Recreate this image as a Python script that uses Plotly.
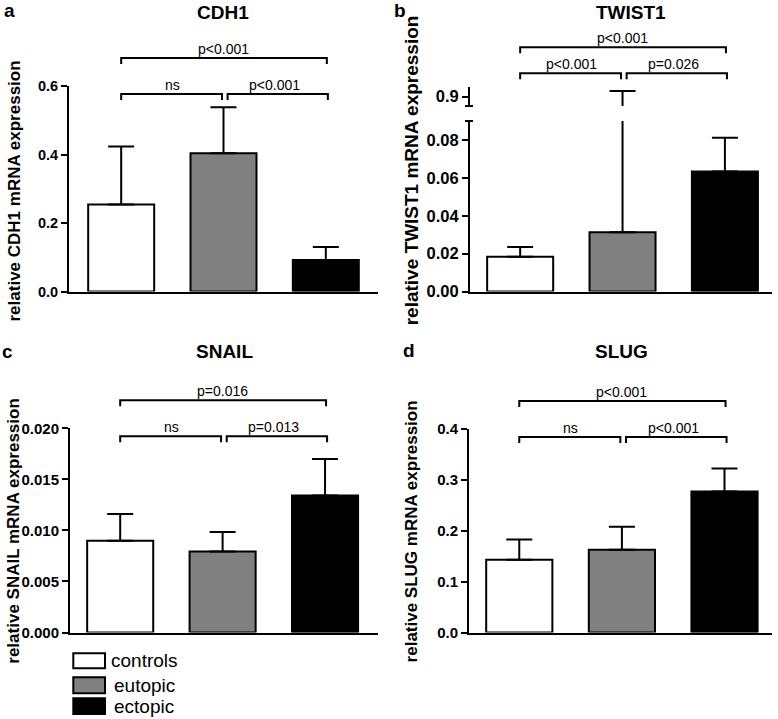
import plotly.graph_objects as go

W, H = 778, 719
FONT = "Liberation Sans"

# ---------------- data ----------------
categories = ["controls", "eutopic", "ectopic"]
bar_colors = ["#ffffff", "#808080", "#000000"]

cdh1_mean = [0.254, 0.404, 0.092]
cdh1_err = [0.169, 0.134, 0.038]
cdh1_ticks = [0.0, 0.2, 0.4, 0.6]
cdh1_pvals = [(0, 2, "p<0.001"), (0, 1, "ns"), (1, 2, "p<0.001")]

twist1_mean = [0.0184, 0.0313, 0.0633]
twist1_err = [0.0051, 0.8807, 0.0179]
twist1_ticks = [0.00, 0.02, 0.04, 0.06, 0.08]
twist1_upper_ticks = [0.9]
twist1_pvals = [(0, 2, "p<0.001"), (0, 1, "p<0.001"), (1, 2, "p=0.026")]

snail_mean = [0.00898, 0.00793, 0.01343]
snail_err = [0.00263, 0.00192, 0.00357]
snail_ticks = [0.000, 0.005, 0.010, 0.015, 0.020]
snail_pvals = [(0, 2, "p=0.016"), (0, 1, "ns"), (1, 2, "p=0.013")]

slug_mean = [0.1429, 0.1625, 0.2772]
slug_err = [0.0398, 0.0456, 0.0451]
slug_ticks = [0.0, 0.1, 0.2, 0.3, 0.4]
slug_pvals = [(0, 2, "p<0.001"), (0, 1, "ns"), (1, 2, "p<0.001")]


def px(x):
    return x / W


def py(y):
    return 1 - y / H


panels = [
    dict(letter="a", gene="CDH1", mean=cdh1_mean, err=cdh1_err, ticks=cdh1_ticks,
         pvals=cdh1_pvals, fmt=".1f", n="", dx=(69, 378), dy=(86, 291.5),
         xr=[-0.51, 2.51], yr=[0, 0.6], tickfs=14.5,
         letter_xy=(9, 10), title_xy=(222.5, 12.5), ytitle_xy=(14, 191.5), ytfs=17),
    dict(letter="b", gene="TWIST1", mean=twist1_mean, err=twist1_err, ticks=twist1_ticks,
         pvals=twist1_pvals, fmt=".2f", n="2", dx=(470, 772), dy=(121, 291.5),
         xr=[-0.49, 2.46], yr=[0, 0.09], tickfs=16.5,
         letter_xy=(400.5, 10), title_xy=(631, 12.5), ytitle_xy=(411.3, 170), ytfs=19),
    dict(letter="c", gene="SNAIL", mean=snail_mean, err=snail_err, ticks=snail_ticks,
         pvals=snail_pvals, fmt=".3f", n="3", dx=(70, 378.3), dy=(428.3, 632.5),
         xr=[-0.49, 2.52], yr=[0, 0.02], tickfs=15,
         letter_xy=(8, 351), title_xy=(224, 351.7), ytitle_xy=(14, 531.7), ytfs=17),
    dict(letter="d", gene="SLUG", mean=slug_mean, err=slug_err, ticks=slug_ticks,
         pvals=slug_pvals, fmt=".1f", n="4", dx=(469, 771.7), dy=(429, 632.5),
         xr=[-0.49, 2.46], yr=[0, 0.4], tickfs=15,
         letter_xy=(409, 350), title_xy=(621.7, 351.7), ytitle_xy=(411.7, 531.7), ytfs=17),
]

fig = go.Figure()
layout = dict(
    width=W, height=H, margin=dict(l=0, r=0, t=0, b=0, pad=0, autoexpand=False),
    paper_bgcolor="white", plot_bgcolor="white",
    barmode="overlay", showlegend=False,
    font=dict(family=FONT, color="black"),
)
shapes = []
annotations = []


def add_bars(n_x, n_y, mean, err):
    for i, cat in enumerate(categories):
        fig.add_trace(go.Bar(
            x=[i], y=[mean[i]], width=0.645, name=cat,
            marker=dict(color=bar_colors[i], line=dict(color="black", width=2)),
            error_y=dict(type="data", symmetric=False, array=[err[i]], arrayminus=[0],
                         color="black", thickness=2, width=13),
            xaxis="x" + n_x, yaxis="y" + n_y, showlegend=False, hoverinfo="skip",
        ))


def yaxis_style(ticks, fmt, fs, rng, dom, anchor):
    return dict(
        range=rng, domain=[py(dom[1]), py(dom[0])], anchor=anchor,
        tickvals=ticks, tickformat=fmt, ticks="outside", ticklen=6, tickwidth=2,
        tickcolor="black", showline=True, linewidth=2, linecolor="black",
        showgrid=False, zeroline=False, fixedrange=True, automargin=False,
        tickfont=dict(family=FONT, size=fs, color="black", weight="bold"),
    )


def text_ann(x, y, text, size, **kw):
    d = dict(x=px(x), y=py(y), xref="paper", yref="paper", text=text,
             showarrow=False, xanchor="center", yanchor="middle",
             font=dict(family=FONT, size=size, color="black"))
    d.update(kw)
    return d


for p in panels:
    n = p["n"]
    layout["xaxis" + n] = dict(
        domain=[px(p["dx"][0]), px(p["dx"][1])], range=p["xr"], anchor="y" + n,
        showline=True, linewidth=2, linecolor="black", showticklabels=False,
        ticks="", showgrid=False, zeroline=False, fixedrange=True, automargin=False,
    )
    layout["yaxis" + n] = yaxis_style(p["ticks"], p["fmt"], p["tickfs"], p["yr"], p["dy"], "x" + n)
    add_bars(n, n, p["mean"], p["err"])

    if p["letter"] == "b":
        ref_y = "y5 domain"
        tiers = {1: 40, 0: 14}
    else:
        ref_y = ("y" + n) + " domain"
        tiers = {1: 28, 0: -8}

    for (i, j, label) in p["pvals"]:
        tier = 1 if (j - i) == 2 else 0
        off = tiers[tier]
        x0 = i + (0.04 if (tier == 0 and i == 1) else 0.0)
        x1 = j + (-0.015 if (tier == 0 and j == 1) else (0.02 if tier == 0 else 0.01))
        shapes.append(dict(
            type="path", xref="x" + n, yref=ref_y, ysizemode="pixel", yanchor=1,
            path=f"M {x0},{off - 6} L {x0},{off} L {x1},{off} L {x1},{off - 6}",
            line=dict(color="black", width=2),
        ))
        annotations.append(dict(
            x=(i + j) / 2, y=1, xref="x" + n, yref=ref_y, text=label,
            showarrow=False, xanchor="center", yanchor="middle", yshift=off + 9,
            font=dict(family=FONT, size=14, color="black"),
        ))

    annotations.append(text_ann(*p["letter_xy"], "<b>" + p["letter"] + "</b>", 19))
    annotations.append(text_ann(*p["title_xy"], "<b>" + p["gene"] + "</b>", 19))
    annotations.append(text_ann(*p["ytitle_xy"], "<b>relative " + p["gene"] + " mRNA expression</b>",
                                p["ytfs"], textangle=-90))

# upper segment of the broken TWIST1 axis
layout["yaxis5"] = yaxis_style(twist1_upper_ticks, ".1f", 16.5, [0.88, 0.92], (87.3, 106), "x2")
add_bars("2", "5", twist1_mean, twist1_err)

# break marks on the TWIST1 axis
for yref, yv in (("y2 domain", 1), ("y5 domain", 0)):
    shapes.append(dict(type="line", xref="x2 domain", xsizemode="pixel", xanchor=0,
                       x0=-5, x1=3, yref=yref, y0=yv, y1=yv,
                       line=dict(color="black", width=2)))

# legend (drawn below panel c)
legend_boxes = [(73.3, 653.3, 105, 668.3), (73.3, 677.3, 105, 693.3), (73.3, 698.3, 105, 714)]
legend_text_x = [109.3, 111.7, 111.7]
for k, cat in enumerate(categories):
    x0, y0, x1, y1 = legend_boxes[k]
    shapes.append(dict(type="rect", xref="paper", yref="paper",
                       x0=px(x0), x1=px(x1), y0=py(y1), y1=py(y0),
                       fillcolor=bar_colors[k], line=dict(color="black", width=2)))
    annotations.append(text_ann(legend_text_x[k], (y0 + y1) / 2, cat, 19, xanchor="left"))

layout["shapes"] = shapes
layout["annotations"] = annotations
fig.update_layout(**layout)
fig.write_html("out.html", config={"displayModeBar": False},
               post_script="document.body.style.margin='0';document.body.style.overflow='hidden';")
